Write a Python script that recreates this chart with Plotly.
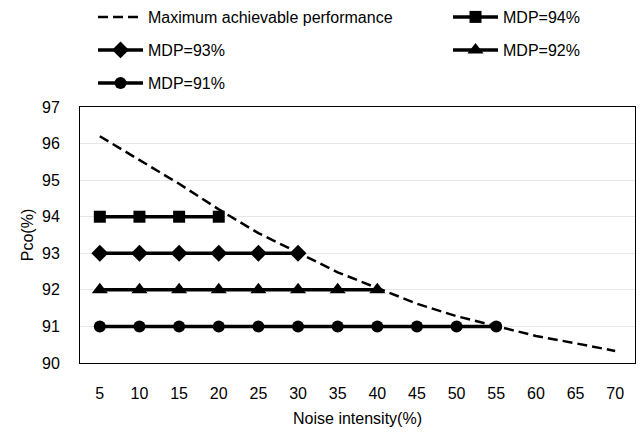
import plotly.graph_objects as go

noise = [5, 10, 15, 20, 25, 30, 35, 40, 45, 50, 55, 60, 65, 70]
max_perf = [96.2, 95.55, 94.9, 94.2, 93.55, 93.02, 92.48, 92.05, 91.62, 91.28, 91.0, 90.74, 90.54, 90.33]

mdp94_x = [5, 10, 15, 20]
mdp94_y = [94, 94, 94, 94]
mdp93_x = [5, 10, 15, 20, 25, 30]
mdp93_y = [93, 93, 93, 93, 93, 93]
mdp92_x = [5, 10, 15, 20, 25, 30, 35, 40]
mdp92_y = [92, 92, 92, 92, 92, 92, 92, 92]
mdp91_x = [5, 10, 15, 20, 25, 30, 35, 40, 45, 50, 55]
mdp91_y = [91, 91, 91, 91, 91, 91, 91, 91, 91, 91, 91]

y_ticks = [90, 91, 92, 93, 94, 95, 96, 97]

FONT = "Liberation Sans"
fig = go.Figure()
fig.add_trace(go.Scatter(x=noise, y=max_perf, mode="lines", name="Maximum achievable performance",
                         line=dict(color="black", width=2.5, dash="10px,5px"), legend="legend6"))
fig.add_trace(go.Scatter(x=mdp94_x, y=mdp94_y, mode="lines+markers", name="MDP=94%",
                         line=dict(color="black", width=3.5),
                         marker=dict(symbol="square", size=12, color="black"), legend="legend2"))
fig.add_trace(go.Scatter(x=mdp93_x, y=mdp93_y, mode="lines+markers", name="MDP=93%",
                         line=dict(color="black", width=3.5),
                         marker=dict(symbol="diamond", size=13, color="black"), legend="legend3"))
fig.add_trace(go.Scatter(x=mdp92_x, y=mdp92_y, mode="lines+markers", name="MDP=92%",
                         line=dict(color="black", width=3.5),
                         marker=dict(symbol="triangle-up", size=14, color="black"), legend="legend4"))
fig.add_trace(go.Scatter(x=mdp91_x, y=mdp91_y, mode="lines+markers", name="MDP=91%",
                         line=dict(color="black", width=3.5),
                         marker=dict(symbol="circle", size=12, color="black"), legend="legend5"))

leg = dict(orientation="h", xanchor="left", yanchor="middle", xref="container", yref="container",
           font=dict(family=FONT, size=16, color="black"), itemwidth=45,
           bgcolor="rgba(0,0,0,0)", borderwidth=0, visible=True)
W, H = 642, 435
col1, col2 = 93 / W, 448 / W
row1, row2, row3 = 1 - 17 / H, 1 - 50 / H, 1 - 83 / H
fig.update_layout(
    width=W, height=H,
    showlegend=True,
    margin=dict(l=80, r=7, t=107, b=72, autoexpand=False),
    paper_bgcolor="white", plot_bgcolor="white",
    font=dict(family=FONT, size=16, color="black"),
    legend6=dict(leg, x=col1, y=row1),
    legend2=dict(leg, x=col2, y=row1),
    legend3=dict(leg, x=col1, y=row2),
    legend4=dict(leg, x=col2, y=row2),
    legend5=dict(leg, x=col1, y=row3),
    xaxis=dict(range=[2.5, 72.5], tickmode="array", tickvals=noise, ticktext=[str(v) for v in noise],
               showgrid=False, zeroline=False, showline=True, linecolor="black", linewidth=1, mirror=True,
               ticks="", ticklabelstandoff=16,
               title=dict(text="Noise intensity(%)", font=dict(family=FONT, size=16), standoff=11)),
    yaxis=dict(range=[90, 97], tickmode="array", tickvals=y_ticks, ticktext=[str(v) for v in y_ticks],
               showgrid=True, gridcolor="#E6E6E6", gridwidth=1, zeroline=False,
               showline=True, linecolor="black", linewidth=1, mirror=True,
               ticks="", ticklabelstandoff=16,
               title=dict(text="Pco(%)", font=dict(family=FONT, size=16), standoff=4)),
)
fig.write_html("out.html", config={"displayModeBar": False},
               post_script="document.body.style.margin='0';")
